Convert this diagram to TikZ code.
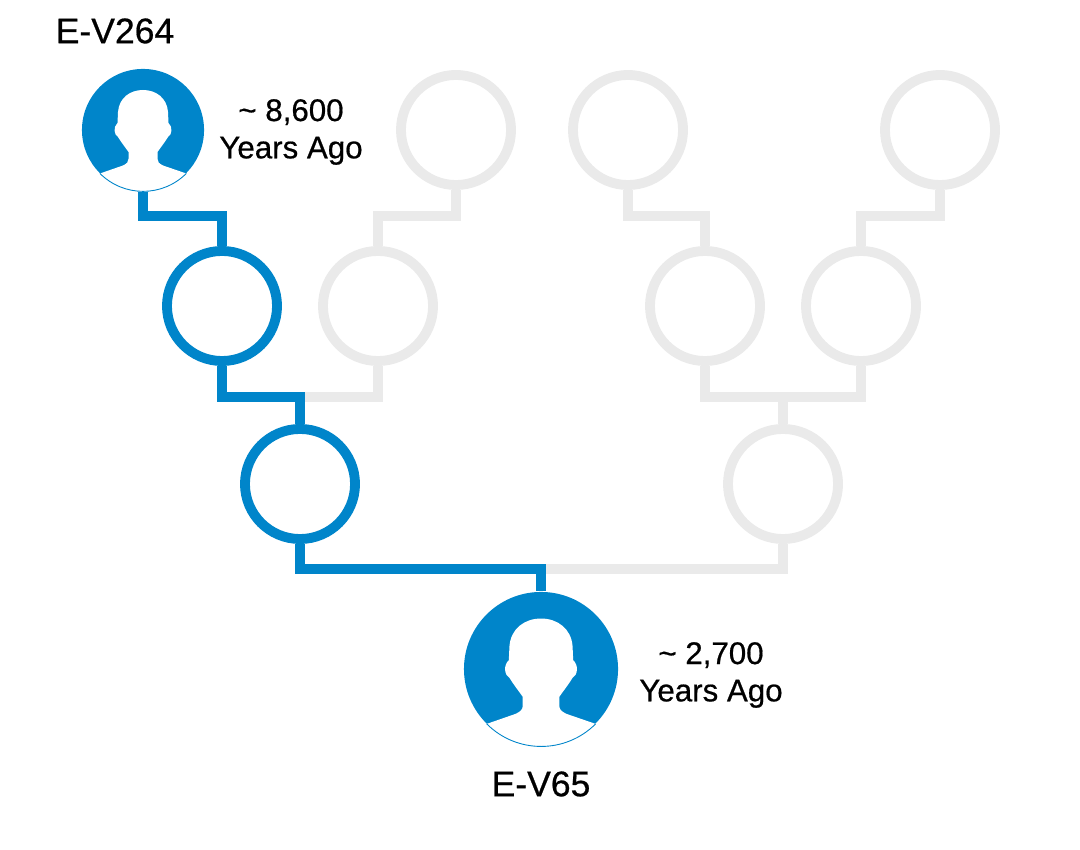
\documentclass[tikz,border=0pt]{standalone}
\usepackage{fontspec}
\setmainfont[FakeBold=.6]{Liberation Sans}
\definecolor{evblue}{HTML}{0085CA}
\definecolor{evgrey}{HTML}{EAEAEA}
\tikzset{
    ghost/.style={circle, draw=evgrey, line width=2.8pt, minimum size=1.1cm, inner sep=0pt},
    kin/.style={ghost, draw=evblue},
    founder/.style={circle, fill=evblue, inner sep=0pt},
    ghostline/.style={draw=evgrey, line width=2.8pt},
    kinline/.style={draw=evblue, line width=2.8pt},
    lbl/.style={font=\fontsize{8.9}{10.6}\selectfont, align=center, inner sep=0pt},
    namelbl/.style={lbl, font=\fontsize{10.1}{11}\selectfont},
    avatar/.pic={
        \fill[white] (-43,-43.5) arc[start angle=225, end angle=315, radius=61]
            -- (20,-35.5)
            .. controls (16,-33.5) and (14.5,-32) .. (14.5,-29)
            -- (14.5,-22)
            .. controls (18,-17) and (22,-12) .. (25,-7)
            .. controls (29,-5) and (30,3) .. (25.5,7)
            -- (25,18)
            .. controls (24,32) and (13,40) .. (0,40)
            .. controls (-13,40) and (-24,32) .. (-25,18)
            -- (-25.5,7)
            .. controls (-30,3) and (-29,-5) .. (-25,-7)
            .. controls (-22,-12) and (-18,-17) .. (-14.5,-22)
            -- (-14.5,-29)
            .. controls (-14.5,-32) and (-16,-33.5) .. (-20,-35.5)
            -- cycle;
        \draw[evblue, line width=.25pt] (-43,-43.5) arc[start angle=225, end angle=315, radius=61];
    }
}
\begin{document}
\begin{tikzpicture}[x=.01cm, y=.01cm, line join=miter]
    \useasboundingbox (0,0) rectangle (1080,849);
    % top row
    \node[founder, minimum size=1.22cm] (old) at (143,719) {};
    \node[ghost] (g1) at (456,719) {};
    \node[ghost] (g2) at (628,719) {};
    \node[ghost] (g3) at (940,719) {};
    % second row
    \node[kin] (k1) at (222,543) {};
    \node[ghost] (g4) at (378,543) {};
    \node[ghost] (g5) at (705,543) {};
    \node[ghost] (g6) at (861,543) {};
    % third row
    \node[kin] (k2) at (300,365) {};
    \node[ghost] (g7) at (783,365) {};
    % bottom
    \node[founder, minimum size=1.54cm] (young) at (541,180) {};
    \pic at (old) {avatar};
    \pic[scale=1.262] at (young) {avatar};
    % joints
    \coordinate (j1) at (222,633);
    \coordinate (j2) at (378,633);
    \coordinate (j3) at (705,633);
    \coordinate (j4) at (861,633);
    \coordinate (j5) at (300,452);
    \coordinate (j6) at (783,452);
    \coordinate (j7) at (541,280);
    \draw[ghostline] (g1.south) |- (j2) -- (g4.north);
    \draw[ghostline] (g2.south) |- (j3) -- (g5.north);
    \draw[ghostline] (g3.south) |- (j4) -- (g6.north);
    \draw[ghostline] (g4.south) |- (j5);
    \draw[ghostline] (g5.south) |- (j6);
    \draw[ghostline] (g6.south) |- (j6) -- (g7.north);
    \draw[ghostline] (g7.south) |- (j7);
    \draw[kinline] (old.south) |- (j1) -- (k1.north);
    \draw[kinline] (k1.south) |- (j5) -- (k2.north);
    \draw[kinline] (k2.south) |- (j7) -- (young.north);
    % labels
    \node[namelbl] (oldname) at (115,818) {E-V264};
    \node[lbl] (oldage) at (291,717) {\textasciitilde{} 8,600\\Years Ago};
    \node[lbl] (youngage) at (711,174) {\textasciitilde{} 2,700\\Years Ago};
    \node[namelbl] (youngname) at (541,65) {E-V65};
\end{tikzpicture}
\end{document}
